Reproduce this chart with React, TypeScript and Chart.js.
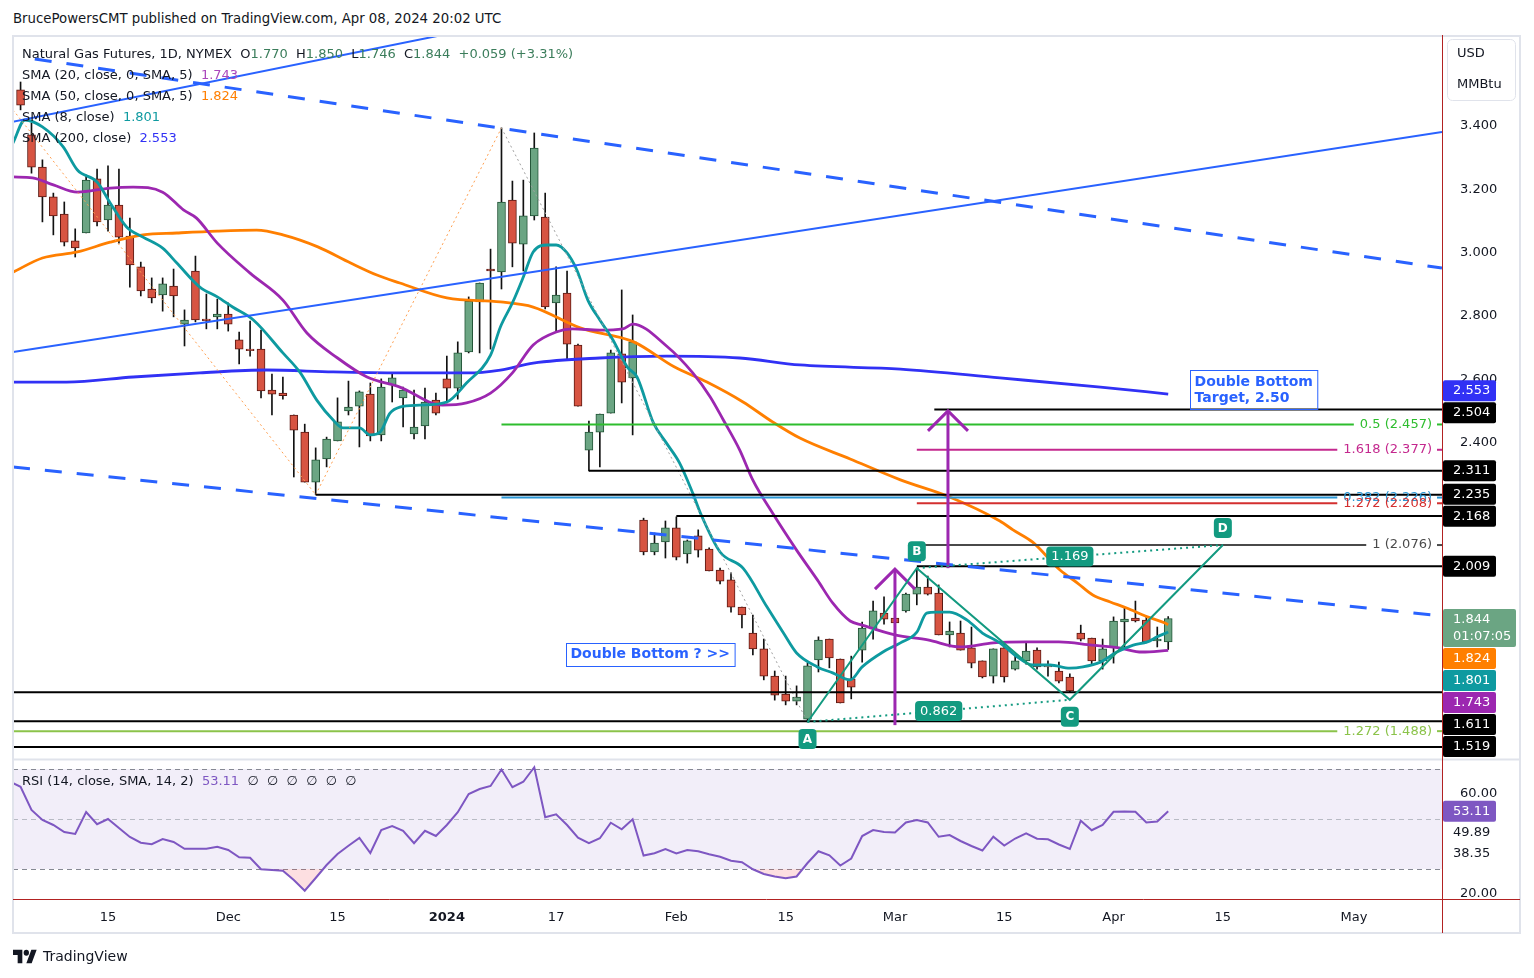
import React, { useEffect, useRef } from 'react';
import { Chart, registerables } from 'chart.js';

Chart.register(...registerables);

const FONT = '"DejaVu Sans", Verdana, sans-serif';
const TEXT = '#131722';

// ---- Daily candles, index 0 = first visible session (Nov 2023) ----
const OPEN = [3.514,3.372,3.270,3.176,3.122,3.037,3.062,3.233,3.103,3.150,
3.052,2.955,2.885,2.866,2.894,2.774,2.942,2.790,2.797,2.806,
2.724,2.695,2.695,2.566,2.556,2.487,2.433,2.275,2.348,2.405,
2.500,2.515,2.553,2.424,2.582,2.541,2.427,2.452,2.534,2.601,
2.572,2.686,2.844,2.948,2.939,3.166,3.027,3.116,3.112,2.841,
2.872,2.708,2.376,2.433,2.493,2.680,2.604,2.155,2.054,2.086,
2.130,2.048,2.105,2.063,1.997,1.966,1.880,1.798,1.748,1.662,
1.605,1.583,1.526,1.713,1.779,1.716,1.653,1.744,1.811,1.861,
1.845,1.868,1.921,1.943,1.924,1.792,1.798,1.751,1.710,1.662,
1.751,1.684,1.710,1.744,1.694,1.678,1.659,1.798,1.782,1.710,
1.751,1.833,1.845,1.839,1.773,1.770];
const HIGH = [3.539,3.409,3.293,3.188,3.160,3.075,3.245,3.264,3.274,3.264,
3.109,2.970,2.920,2.920,2.948,2.819,2.989,2.869,2.853,2.841,
2.749,2.784,2.755,2.616,2.607,2.487,2.458,2.383,2.417,2.541,
2.594,2.563,2.588,2.601,2.616,2.575,2.566,2.572,2.556,2.673,
2.718,2.860,2.904,3.011,3.394,3.226,3.229,3.378,3.188,2.955,
2.942,2.711,2.468,2.490,2.692,2.882,2.803,2.161,2.114,2.152,
2.165,2.092,2.124,2.067,2.003,1.988,1.880,1.855,1.779,1.678,
1.662,1.631,1.703,1.786,1.779,1.716,1.725,1.833,1.899,1.912,
1.893,1.924,2.000,1.978,1.950,1.833,1.836,1.817,1.710,1.748,
1.770,1.729,1.767,1.751,1.710,1.706,1.669,1.823,1.782,1.779,
1.849,1.877,1.899,1.849,1.817,1.850];
const LOW = [3.451,3.251,3.097,3.056,3.021,2.986,3.062,3.084,3.068,3.030,
2.891,2.863,2.841,2.815,2.797,2.705,2.781,2.759,2.759,2.752,
2.648,2.673,2.541,2.487,2.537,2.291,2.275,2.235,2.323,2.405,
2.487,2.386,2.405,2.405,2.528,2.449,2.411,2.411,2.487,2.525,
2.537,2.683,2.683,2.695,2.885,2.955,2.942,3.103,2.822,2.752,
2.664,2.515,2.310,2.323,2.493,2.525,2.424,2.045,2.045,2.035,
2.029,2.019,2.038,1.994,1.953,1.864,1.814,1.729,1.650,1.586,
1.571,1.571,1.517,1.675,1.688,1.577,1.590,1.706,1.779,1.826,
1.804,1.864,1.887,1.918,1.792,1.754,1.744,1.688,1.656,1.640,
1.643,1.681,1.700,1.684,1.662,1.640,1.612,1.773,1.700,1.684,
1.703,1.748,1.833,1.767,1.754,1.746];
const CLOSE = [3.466,3.270,3.176,3.116,3.033,3.015,3.229,3.097,3.150,3.049,
2.961,2.879,2.857,2.901,2.863,2.787,2.787,2.785,2.806,2.774,
2.695,2.690,2.563,2.553,2.548,2.439,2.275,2.345,2.411,2.465,
2.512,2.560,2.421,2.575,2.604,2.566,2.449,2.528,2.493,2.572,
2.683,2.847,2.904,2.942,3.160,3.030,3.116,3.330,2.828,2.866,
2.711,2.515,2.433,2.490,2.683,2.591,2.718,2.054,2.082,2.130,
2.038,2.089,2.060,1.994,1.962,1.880,1.855,1.748,1.662,1.602,
1.583,1.596,1.694,1.776,1.719,1.577,1.627,1.814,1.868,1.842,
1.830,1.921,1.943,1.921,1.792,1.804,1.744,1.703,1.659,1.748,
1.659,1.710,1.741,1.691,1.691,1.646,1.615,1.779,1.710,1.748,
1.836,1.842,1.836,1.770,1.779,1.844];

// ---- Moving averages (session index, value) ----
const SMA8_X = [-0.7,0.4,2,3.9,5.2,7,8.2,9.7,11.2,13,14.3,16.4,18,19.4,21.3,24,25.6,27.1,28.6,29.5,31,32,32.9,33.8,34.7,36.5,39,40.8,43,43.9,45,46,46.9,48.2,49,50,50.9,51.9,53,54.2,55.5,56.4,57.9,59.1,60.3,61.5,62.2,64,66.1,68.3,69.8,71,72.9,74.3,75.9,77,78.9,80.5,82,82.9,83.8,85,86.6,88,89.6,91.2,92.6,94.2,96,97.2,98.8,100.3,101.8,103.1,104,105];
const SMA8_Y = [3.346,3.419,3.397,3.334,3.261,3.223,3.157,3.081,3.049,3.014,2.967,2.891,2.860,2.828,2.787,2.683,2.620,2.534,2.471,2.446,2.446,2.424,2.433,2.493,2.512,2.518,2.528,2.588,2.676,2.765,2.841,2.923,3.002,3.024,3.024,2.999,2.945,2.850,2.787,2.724,2.639,2.607,2.462,2.398,2.335,2.240,2.177,2.054,2.003,1.880,1.798,1.735,1.691,1.672,1.650,1.691,1.738,1.767,1.801,1.861,1.864,1.864,1.839,1.798,1.767,1.722,1.697,1.697,1.687,1.691,1.706,1.738,1.760,1.770,1.786,1.801];
const SMA20_X = [-0.7,1.1,3,5.2,8.2,10.3,13,14.9,16.1,18,21,24,26.2,29,31.7,34.7,38.6,40.8,43,45,46.9,49,50.5,53,55.1,56,59.1,61.5,63.1,64.3,65.8,67,68.8,71,72.9,74.3,75.9,77,80,83,86,89,92,95,98,100.5,102.6,105];
const SMA20_Y = [3.239,3.236,3.214,3.191,3.204,3.207,3.191,3.135,3.109,3.030,2.935,2.850,2.746,2.667,2.607,2.575,2.518,2.525,2.556,2.620,2.708,2.749,2.759,2.755,2.759,2.774,2.705,2.620,2.544,2.471,2.376,2.281,2.177,2.060,1.966,1.893,1.836,1.823,1.792,1.776,1.754,1.767,1.770,1.770,1.760,1.751,1.738,1.743];
const SMA50_X = [-0.7,2,5.2,8.2,11.2,14.3,18,21.6,24,27.2,30.2,32.6,34.7,39,43.9,46.9,51.2,56.1,59.8,62.8,66.1,68.8,71.3,75.9,80.5,85,89.6,90.8,92.6,95.1,96.7,98.1,99.7,101.2,103.1,104.7,105];
const SMA50_Y = [2.938,2.983,3.002,3.033,3.056,3.062,3.068,3.071,3.056,3.018,2.967,2.929,2.904,2.857,2.844,2.828,2.762,2.718,2.639,2.591,2.528,2.465,2.414,2.348,2.282,2.228,2.152,2.124,2.085,1.997,1.956,1.918,1.896,1.877,1.849,1.830,1.824];
const SMA200_X = [-0.7,4.2,10.3,16.4,22.5,28.6,34.7,40.8,43.9,46.9,53,59.1,65.8,71.3,80.5,89.6,98.8,105];
const SMA200_Y = [2.591,2.591,2.607,2.620,2.629,2.623,2.620,2.620,2.629,2.651,2.667,2.673,2.667,2.645,2.632,2.604,2.575,2.553];

// ---- RSI (14), starting one session before the first visible candle ----
const RSI_START = -1;
const RSI_VALUES = [65.0,
62.9,53.6,49.6,47.6,44.8,44.0,52.8,47.9,50.0,46.4,
42.8,40.5,39.9,42.0,40.8,38.1,38.1,38.1,38.9,37.6,
34.7,34.5,29.9,29.6,29.3,25.6,21.3,26.4,31.6,36.0,
39.3,42.4,36.4,45.6,47.2,45.3,40.3,45.3,43.2,47.6,
52.7,60.0,62.0,63.2,69.8,62.7,64.9,70.7,50.7,51.9,
47.6,42.5,40.3,42.3,48.5,45.9,49.9,35.4,36.3,38.0,
36.2,37.6,37.1,35.9,34.9,33.3,32.7,29.9,28.0,27.0,
26.3,27.0,32.4,37.1,35.5,31.4,34.2,43.2,45.6,44.8,
44.6,48.6,49.6,48.6,42.9,43.6,41.2,39.2,37.4,42.9,
39.4,42.2,44.3,42.1,41.9,39.8,38.0,49.3,45.5,47.6,
52.9,53.0,52.9,48.6,49.0,53.11];
const RSI_LEVELS = [70, 50, 30];
const RSI_EXTRA_LABELS = [49.89, 38.35];

// ---- Axes ----
const X_TICKS = [8, 19, 29, 39, 49, 60, 70, 80, 90, 100, 110, 122];
const X_LABELS = ['15', 'Dec', '15', '2024', '17', 'Feb', '15', 'Mar', '15', 'Apr', '15', 'May'];
const PRICE_TICKS = [3.4, 3.2, 3.0, 2.8, 2.6, 2.4];
const RSI_TICKS = [60, 20];
const X_RANGE = [-0.692, 130.05];
const PRICE_RANGE = [1.4, 3.6812];
const RSI_RANGE = [17.6, 74.0];

// ---- Drawings (session index, price) ----
const TREND_SOLID = [[-0.78, 3.413, 38.65, 3.688], [-0.69, 2.686, 130.05, 3.381]];
const TREND_DASHED = [[1.3, 3.612, 130.05, 2.951], [-0.69, 2.323, 130.05, 1.852]];
const ZIGZAG = [[-0.69, 3.451, 27, 2.235, '#FF9F50'], [27, 2.235, 44, 3.394, '#FF9F50'], [44, 3.394, 72, 1.517, '#A0A0A0']];
const H_LEVELS: [number, number, boolean][] = [[83.6, 2.504, true], [52, 2.311, true], [27, 2.235, true], [60, 2.168, true], [82, 2.009, true], [-1, 1.611, true], [-1, 1.519, true], [-1, 1.438, false]];
const FIB_LEVELS: [number, number, string, string][] = [
  [44, 2.457, '#2EBD2E', '0.5 (2.457)'],
  [82, 2.377, '#C4288E', '1.618 (2.377)'],
  [44, 2.226, '#2A96D4', '0.382 (2.226)'],
  [82, 2.208, '#D32F2F', '1.272 (2.208)'],
  [82.6, 2.076, '#4A4A4A', '1 (2.076)'],
  [-1, 1.488, '#8BC34A', '1.272 (1.488)'],
];
const ARROWS = [[80, 1.507, 2.0], [84.85, 2.003, 2.5]];
const PATTERN_NAMES = ['A', 'B', 'C', 'D'];
const PATTERN_X = [72, 82, 96, 110];
const PATTERN_Y = [1.517, 2.003, 1.587, 2.076];
const PATTERN_RATIOS = ['0.862', '1.169'];
const NOTES = [
  { i: 49.9, p: 1.767, lines: ['Double Bottom ? >>'] },
  { i: 107.0, p: 2.629, lines: ['Double Bottom', 'Target, 2.50'] },
];

const HEADER = 'BrucePowersCMT published on TradingView.com, Apr 08, 2024 20:02 UTC';
const SYMBOL = 'Natural Gas Futures, 1D, NYMEX';
const CHANGE = '+0.059 (+3.31%)';
const TIMER = '01:07:05';

const UP = '#6BA583', UP_B = '#225437', DN = '#D75442', DN_B = '#5A1913';
const C_SMA8 = '#0E9AA0', C_SMA20 = '#9C27B0', C_SMA50 = '#FF7F00', C_SMA200 = '#3131F5';
const C_RSI = '#7E57C2', C_PAT = '#139A80', C_BLUE = '#2962FF', C_VAL = '#3B7D5B';

function rrect(ctx: any, x: number, y: number, w: number, h: number, r: number) {
  ctx.beginPath();
  ctx.moveTo(x + r, y);
  ctx.arcTo(x + w, y, x + w, y + h, r);
  ctx.arcTo(x + w, y + h, x, y + h, r);
  ctx.arcTo(x, y + h, x, y, r);
  ctx.arcTo(x, y, x + w, y, r);
  ctx.closePath();
}

function seg(ctx: any, x1: number, y1: number, x2: number, y2: number) {
  ctx.beginPath();
  ctx.moveTo(x1, y1);
  ctx.lineTo(x2, y2);
  ctx.stroke();
}

const last = (a: number[]) => a[a.length - 1];

// stack value tags on the axis so they do not overlap
function layoutTags(tags: any[], Y: (v: number) => number) {
  tags.sort((a, b) => b.v - a.v);
  tags.forEach((t) => {
    t.h = t.sub ? 38 : 21;
    t.want = Y(t.v) - (t.sub ? 9.5 : 10.5);
  });
  let prev = -Infinity;
  const clusters: any[][] = [];
  tags.forEach((t) => {
    t.top = Math.max(t.want, prev + 1);
    if (t.want < prev + 1 && clusters.length) clusters[clusters.length - 1].push(t);
    else clusters.push([t]);
    prev = t.top + t.h;
  });
  clusters.forEach((c) => {
    if (c.length < 2 || c.some((t) => t.sub)) return;
    const shift = c.reduce((s, t) => s + (t.want - t.top), 0) / c.length;
    c.forEach((t) => { t.top += shift; });
  });
  return tags;
}

const drawings = {
  id: 'tvDrawings',
  beforeDatasetsDraw(chart: any) {
    const { ctx } = chart;
    const { x, rsi } = chart.scales;
    ctx.save();
    const t = rsi.getPixelForValue(RSI_LEVELS[0]);
    const b = rsi.getPixelForValue(RSI_LEVELS[2]);
    ctx.fillStyle = 'rgba(126,87,194,0.10)';
    ctx.fillRect(x.left, t, x.right - x.left, b - t);
    ctx.lineWidth = 1;
    ctx.setLineDash([5, 4]);
    RSI_LEVELS.forEach((lv, k) => {
      ctx.strokeStyle = k === 1 ? '#B8BBC4' : '#868993';
      const py = Math.round(rsi.getPixelForValue(lv)) + 0.5;
      seg(ctx, x.left, py, x.right, py);
    });
    ctx.restore();
  },
  afterDatasetsDraw(chart: any) {
    const { ctx } = chart;
    const { x, y } = chart.scales;
    const X = (v: number) => x.getPixelForValue(v);
    const Y = (v: number) => y.getPixelForValue(v);
    ctx.save();
    ctx.beginPath();
    ctx.rect(x.left, y.top, x.right - x.left, y.bottom - y.top);
    ctx.clip();

    // zigzag dotted
    ctx.lineWidth = 1;
    ctx.setLineDash([2, 3]);
    ZIGZAG.forEach((z: any) => {
      ctx.strokeStyle = z[4];
      seg(ctx, X(z[0]), Y(z[1]), X(z[2]), Y(z[3]));
    });
    ctx.setLineDash([]);

    // horizontal levels
    ctx.lineWidth = 2;
    ctx.strokeStyle = '#000';
    H_LEVELS.forEach(([s, p]) => seg(ctx, X(s), Y(p), x.right, Y(p)));

    // fib levels
    ctx.font = `13px ${FONT}`;
    ctx.textBaseline = 'middle';
    ctx.textAlign = 'right';
    FIB_LEVELS.forEach(([s, p, c, label]) => {
      const tx = x.right - 10;
      const w = ctx.measureText(label).width;
      ctx.strokeStyle = c;
      ctx.lineWidth = 2;
      seg(ctx, X(s), Y(p), tx - w - 6, Y(p));
      ctx.fillStyle = c;
      ctx.fillText(label, tx, Y(p));
      seg(ctx, x.right - 5, Y(p), x.right, Y(p));
    });

    // trend lines
    ctx.strokeStyle = C_BLUE;
    ctx.lineWidth = 2;
    TREND_SOLID.forEach((l) => seg(ctx, X(l[0]), Y(l[1]), X(l[2]), Y(l[3])));
    ctx.lineWidth = 3;
    ctx.setLineDash([17, 15]);
    TREND_DASHED.forEach((l) => seg(ctx, X(l[0]), Y(l[1]), X(l[2]), Y(l[3])));
    ctx.setLineDash([]);

    // purple arrows
    ctx.strokeStyle = '#9C27B0';
    ctx.lineWidth = 3;
    ctx.lineJoin = 'miter';
    ARROWS.forEach(([i, p0, p1]) => {
      const ax = X(i), top = Y(p1);
      seg(ctx, ax, Y(p0), ax, top);
      ctx.beginPath();
      ctx.moveTo(ax - 20, top + 20);
      ctx.lineTo(ax, top);
      ctx.lineTo(ax + 20, top + 20);
      ctx.stroke();
    });

    // ABCD pattern
    const px = PATTERN_X.map(X), py = PATTERN_Y.map(Y);
    ctx.strokeStyle = C_PAT;
    ctx.lineWidth = 2;
    ctx.beginPath();
    ctx.moveTo(px[0], py[0]);
    for (let k = 1; k < 4; k++) ctx.lineTo(px[k], py[k]);
    ctx.stroke();
    ctx.setLineDash([2, 4]);
    seg(ctx, px[0], py[0], px[2], py[2]);
    seg(ctx, px[1], py[1], px[3], py[3]);
    ctx.setLineDash([]);
    ctx.textAlign = 'center';
    ctx.font = `13px ${FONT}`;
    [[0, 2], [1, 3]].forEach(([a, b], k) => {
      const mx = (px[a] + px[b]) / 2, my = (py[a] + py[b]) / 2;
      const w = ctx.measureText(PATTERN_RATIOS[k]).width + 10;
      ctx.fillStyle = C_PAT;
      rrect(ctx, mx - w / 2, my - 10, w, 20, 4);
      ctx.fill();
      ctx.fillStyle = '#fff';
      ctx.fillText(PATTERN_RATIOS[k], mx, my + 0.5);
    });
    ctx.font = `bold 12px ${FONT}`;
    PATTERN_NAMES.forEach((n, k) => {
      const below = k % 2 === 0;
      const cy = py[k] + (below ? 17 : -17);
      ctx.fillStyle = C_PAT;
      rrect(ctx, px[k] - 9, cy - 10, 18, 20, 4);
      ctx.fill();
      ctx.fillStyle = '#fff';
      ctx.fillText(n, px[k], cy + 0.5);
    });

    // notes
    ctx.font = `bold 14px ${FONT}`;
    ctx.textAlign = 'left';
    NOTES.forEach((n) => {
      const left = X(n.i), top = Y(n.p);
      const w = Math.max(...n.lines.map((s) => ctx.measureText(s).width)) + 9;
      const h = n.lines.length * 16 + 7;
      ctx.strokeStyle = C_BLUE;
      ctx.lineWidth = 1;
      ctx.strokeRect(Math.round(left) + 0.5, Math.round(top) + 0.5, w, h);
      ctx.fillStyle = C_BLUE;
      n.lines.forEach((s, k) => ctx.fillText(s, left + 4.5, top + 12 + 16 * k));
    });
    ctx.restore();
  },
  afterDraw(chart: any) {
    const { ctx } = chart;
    const { x, y, rsi } = chart.scales;
    const Y = (v: number) => y.getPixelForValue(v);
    const R = (v: number) => rsi.getPixelForValue(v);
    ctx.save();
    // frame and separators
    ctx.strokeStyle = '#E0E3EB';
    ctx.lineWidth = 2;
    ctx.strokeRect(x.left, y.top - 1, y.right - x.left, x.bottom - y.top + 1);
    seg(ctx, x.left, y.bottom + 0.5, y.right, y.bottom + 0.5);
    ctx.strokeStyle = '#B22222';
    ctx.lineWidth = 1;
    seg(ctx, x.right + 0.5, y.top - 2, x.right + 0.5, x.bottom);
    seg(ctx, x.left, rsi.bottom - 0.5, y.right, rsi.bottom - 0.5);

    // unit box
    ctx.strokeStyle = '#E0E3EB';
    ctx.lineWidth = 1;
    rrect(ctx, x.right + 5.5, y.top + 2.5, 68, 61, 5);
    ctx.stroke();
    ctx.font = `13px ${FONT}`;
    ctx.fillStyle = TEXT;
    ctx.textBaseline = 'middle';
    ctx.textAlign = 'left';
    ctx.fillText('USD', x.right + 15, y.top + 17);
    ctx.fillText('MMBtu', x.right + 15, y.top + 48);

    // price tags
    const tags: any[] = [];
    H_LEVELS.forEach(([, p, show]) => { if (show) tags.push({ v: p, bg: '#000' }); });
    tags.push({ v: last(SMA200_Y), bg: C_SMA200 });
    tags.push({ v: last(CLOSE), bg: UP, sub: TIMER, wide: true });
    tags.push({ v: last(SMA50_Y), bg: C_SMA50 });
    tags.push({ v: last(SMA8_Y), bg: C_SMA8 });
    tags.push({ v: last(SMA20_Y), bg: C_SMA20 });
    layoutTags(tags, Y).forEach((t) => {
      ctx.fillStyle = t.bg;
      rrect(ctx, x.right + 1, t.top, t.wide ? 73 : 53, t.h, 2);
      ctx.fill();
      ctx.fillStyle = '#fff';
      ctx.fillText(t.v.toFixed(3), x.right + 11, t.top + 10.5);
      if (t.sub) ctx.fillText(t.sub, x.right + 11, t.top + 28);
    });

    // RSI tags
    const rv = last(RSI_VALUES);
    const rtop = R(rv) - 10.5;
    ctx.fillStyle = C_RSI;
    rrect(ctx, x.right + 1, rtop, 53, 21, 2);
    ctx.fill();
    ctx.fillStyle = '#fff';
    ctx.fillText(rv.toFixed(2), x.right + 11, rtop + 10.5);
    let rprev = rtop + 21;
    ctx.fillStyle = TEXT;
    RSI_EXTRA_LABELS.forEach((v) => {
      let top = R(v) - 10.5;
      if (top < rprev) top = rprev;
      rprev = top + 21;
      ctx.fillText(v.toFixed(2), x.right + 11, top + 10.5);
    });

    // legends
    const segs = (xx: number, yy: number, parts: [string, string][]) => {
      parts.forEach(([s, c]) => {
        ctx.fillStyle = c;
        ctx.fillText(s, xx, yy);
        xx += ctx.measureText(s).width;
      });
    };
    const lx = x.left + 9;
    const n = OPEN.length - 1;
    segs(lx, y.top + 18, [
      [SYMBOL + '  O', TEXT], [OPEN[n].toFixed(3), C_VAL],
      ['  H', TEXT], [HIGH[n].toFixed(3), C_VAL],
      ['  L', TEXT], [LOW[n].toFixed(3), C_VAL],
      ['  C', TEXT], [CLOSE[n].toFixed(3), C_VAL],
      ['  ' + CHANGE, C_VAL],
    ]);
    const smaLegend: [string, number[], string][] = [
      ['SMA (20, close, 0, SMA, 5)  ', SMA20_Y, '#AB47BC'],
      ['SMA (50, close, 0, SMA, 5)  ', SMA50_Y, C_SMA50],
      ['SMA (8, close)  ', SMA8_Y, C_SMA8],
      ['SMA (200, close)  ', SMA200_Y, C_SMA200],
    ];
    smaLegend.forEach(([s, arr, c], k) => {
      segs(lx, y.top + 39 + 21 * k, [[s, TEXT], [last(arr).toFixed(3), c]]);
    });
    segs(lx, rsi.top + 23, [
      ['RSI (14, close, SMA, 14, 2)  ', TEXT], [rv.toFixed(2), C_RSI], ['  \u2205  \u2205  \u2205  \u2205  \u2205  \u2205', TEXT],
    ]);
    ctx.restore();
  },
};

export default function App() {
  const ref = useRef<HTMLCanvasElement | null>(null);
  useEffect(() => {
    const canvas = ref.current;
    if (!canvas) return;
    const idx = OPEN.map((_, i) => i);
    const up = (i: number) => CLOSE[i] >= OPEN[i];
    const line = (xs: number[], ys: number[], color: string, order: number) => ({
      type: 'line',
      data: xs.map((v, k) => ({ x: v, y: ys[k] })),
      borderColor: color,
      borderWidth: 2.8,
      pointRadius: 0,
      cubicInterpolationMode: 'monotone',
      xAxisID: 'x',
      yAxisID: 'y',
      order,
    });
    const chart = new Chart(canvas, {
      type: 'bar',
      data: {
        datasets: [
          {
            type: 'bar',
            data: idx.map((i) => ({ x: i, y: [LOW[i], HIGH[i]] })),
            backgroundColor: '#111',
            barThickness: 1,
            grouped: false,
            xAxisID: 'x',
            yAxisID: 'y',
            order: 20,
          },
          {
            type: 'bar',
            data: idx.map((i) => ({ x: i, y: [OPEN[i], CLOSE[i]] })),
            backgroundColor: idx.map((i) => (up(i) ? UP : DN)),
            borderColor: idx.map((i) => (up(i) ? UP_B : DN_B)),
            borderWidth: 1,
            borderSkipped: false,
            barThickness: 8,
            grouped: false,
            xAxisID: 'x',
            yAxisID: 'y',
            order: 19,
          },
          line(SMA200_X, SMA200_Y, C_SMA200, 4),
          line(SMA50_X, SMA50_Y, C_SMA50, 3),
          line(SMA20_X, SMA20_Y, C_SMA20, 2),
          line(SMA8_X, SMA8_Y, C_SMA8, 1),
          {
            type: 'line',
            data: RSI_VALUES.map((v, k) => ({ x: RSI_START + k, y: v })),
            borderColor: C_RSI,
            borderWidth: 2,
            pointRadius: 0,
            xAxisID: 'x',
            yAxisID: 'rsi',
            fill: { target: { value: 30 }, above: 'rgba(0,0,0,0)', below: 'rgba(242,54,69,0.16)' },
            order: 1,
          },
        ] as any,
      },
      options: {
        responsive: false,
        maintainAspectRatio: false,
        animation: false,
        events: [],
        layout: { padding: { left: 13, top: 37, right: 14, bottom: 45 } },
        plugins: { legend: { display: false }, tooltip: { enabled: false } },
        scales: {
          x: {
            type: 'linear',
            offset: false,
            min: X_RANGE[0],
            max: X_RANGE[1],
            grid: { display: false, offset: false },
            border: { display: false },
            ticks: {
              autoSkip: false,
              maxRotation: 0,
              padding: 2,
              color: TEXT,
              font: (c: any) => ({ family: FONT, size: 13, weight: c.tick && c.tick.value === 39 ? 'bold' : 'normal' }),
              callback: (v: any) => {
                const k = X_TICKS.indexOf(Number(v));
                return k >= 0 ? X_LABELS[k] : '';
              },
            },
            afterBuildTicks: (s: any) => { s.ticks = X_TICKS.map((v) => ({ value: v })); },
            afterFit: (s: any) => { s.height = 33; },
          },
          y: {
            type: 'linear',
            position: 'right',
            stack: 'panes',
            stackWeight: 722,
            min: PRICE_RANGE[0],
            max: PRICE_RANGE[1],
            grid: { display: false },
            border: { display: false },
            ticks: { padding: 10, color: TEXT, font: { family: FONT, size: 13 }, callback: (v: any) => Number(v).toFixed(3) },
            afterBuildTicks: (s: any) => { s.ticks = PRICE_TICKS.map((v) => ({ value: v })); },
            afterFit: (s: any) => { s.width = 78; },
          },
          rsi: {
            type: 'linear',
            position: 'right',
            stack: 'panes',
            stackWeight: 141,
            min: RSI_RANGE[0],
            max: RSI_RANGE[1],
            grid: { display: false },
            border: { display: false },
            ticks: { padding: 10, color: TEXT, font: { family: FONT, size: 13 }, callback: (v: any) => Number(v).toFixed(2) },
            afterBuildTicks: (s: any) => { s.ticks = RSI_TICKS.map((v) => ({ value: v })); },
            afterFit: (s: any) => { s.width = 78; },
          },
        },
      } as any,
      plugins: [drawings],
    });
    return () => chart.destroy();
  }, []);

  return (
    <div style={{ position: 'absolute', left: 0, top: 0, width: 1534, height: 978, background: '#fff', overflow: 'hidden' }}>
      <div style={{ position: 'absolute', left: 13, top: 10, font: `13.3px ${FONT}`, lineHeight: '18px', color: TEXT, whiteSpace: 'nowrap' }}>
        {HEADER}
      </div>
      <canvas ref={ref} width={1534} height={978} style={{ position: 'absolute', left: 0, top: 0 }} />
      <div style={{ position: 'absolute', left: 13, top: 947, display: 'flex', alignItems: 'center', gap: 6 }}>
        <svg width="24" height="15" viewBox="0 3 36 20" preserveAspectRatio="none">
          <path d="M14 22H7V11H0V4h14v18zM28 22h-8l7.5-18h8L28 22z" fill={TEXT} />
          <circle cx="20" cy="8" r="4" fill={TEXT} />
        </svg>
        <span style={{ font: `14px ${FONT}`, color: TEXT, lineHeight: '18px' }}>TradingView</span>
      </div>
    </div>
  );
}
